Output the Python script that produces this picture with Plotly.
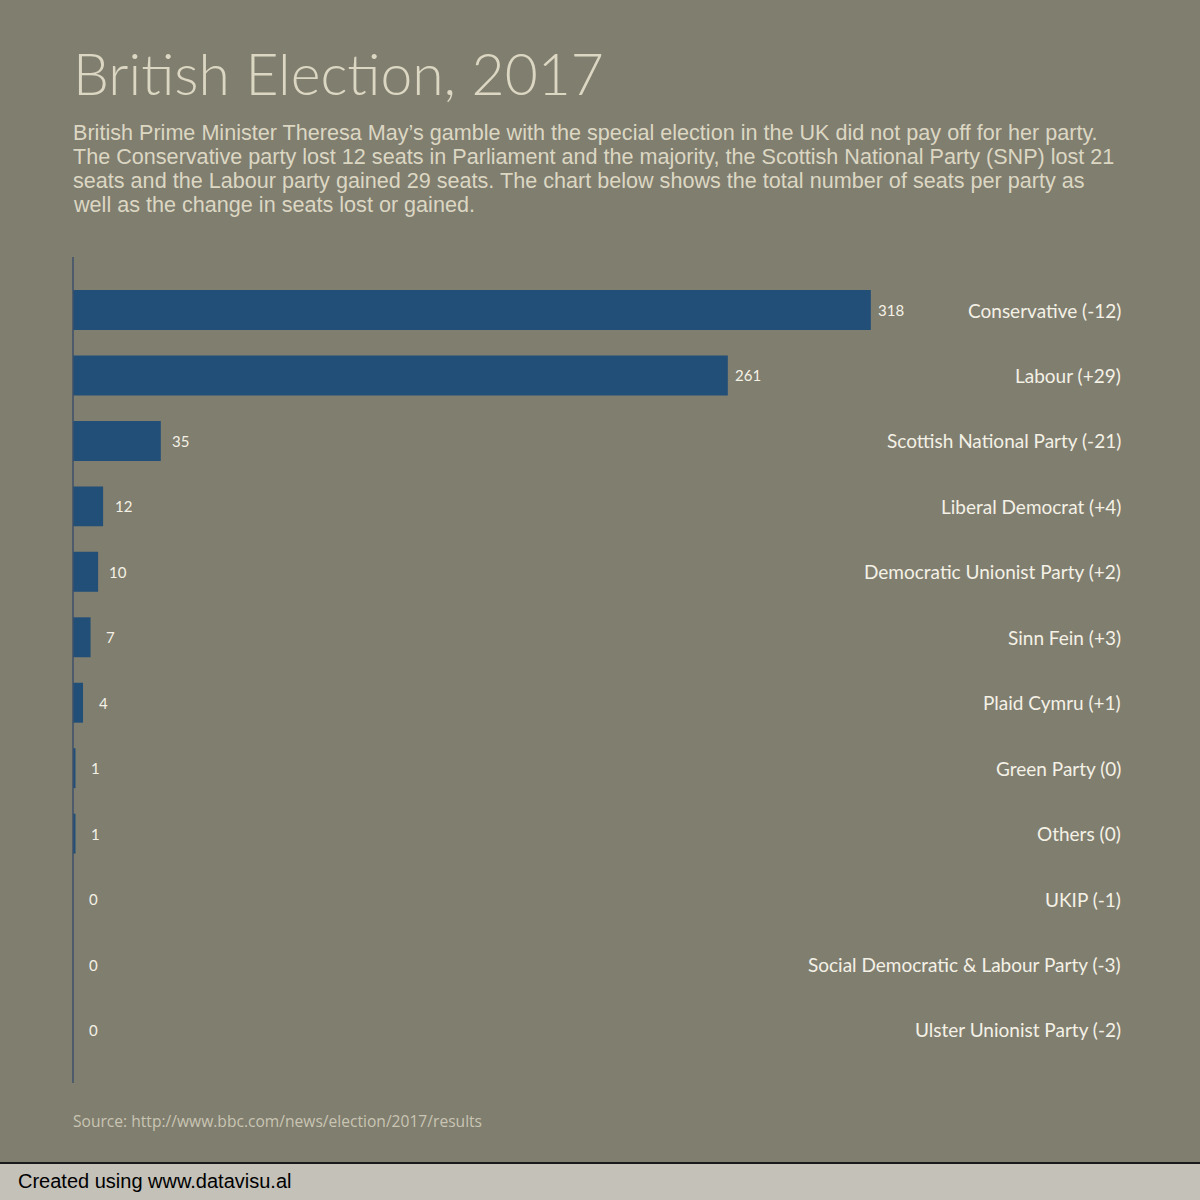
import plotly.graph_objects as go

parties = ["Conservative", "Labour", "Scottish National Party", "Liberal Democrat",
           "Democratic Unionist Party", "Sinn Fein", "Plaid Cymru", "Green Party",
           "Others", "UKIP", "Social Democratic & Labour Party", "Ulster Unionist Party"]
seats = [318, 261, 35, 12, 10, 7, 4, 1, 1, 0, 0, 0]
change = ["-12", "+29", "-21", "+4", "+2", "+3", "+1", "0", "0", "-1", "-3", "-2"]

subtitle_lines = [
    "British Prime Minister Theresa May\u2019s gamble with the special election in the UK did not pay off for her party.",
    "The Conservative party lost 12 seats in Parliament and the majority, the Scottish National Party (SNP) lost 21",
    "seats and the Labour party gained 29 seats. The chart below shows the total number of seats per party as",
    "well as the change in seats lost or gained.",
]

BG = "#807e6f"
BAR = "#224f78"
LIGHT = "#dcd7c3"

# plot area in pixels: left 73, right 1130, top 257, bottom 1083
L, R, T, B = 73, 1130, 257, 1083


def px_x(px):
    return (px - L) / (R - L)


def px_y(px):
    return (B - px) / (B - T)


fig = go.Figure()
fig.add_trace(go.Bar(
    x=seats, y=parties, orientation="h",
    marker=dict(color=BAR, line=dict(width=0)),
    width=0.61, hoverinfo="skip",
))

annotations = []
for p, s, c in zip(parties, seats, change):
    # value label
    annotations.append(dict(
        x=s, y=p, xref="x", yref="y", text=str(s), showarrow=False,
        xanchor="center", yanchor="middle", xshift=20,
        font=dict(family="Lato", size=15, color="#f4f1e6"),
    ))
    # party label on the right
    annotations.append(dict(
        x=px_x(1123), y=p, xref="paper", yref="y", text=f"{p} ({c})",
        showarrow=False, xanchor="right", yanchor="middle",
        font=dict(family="Lato", size=19, color="#f4f1e6"),
    ))

annotations.append(dict(
    x=px_x(71), y=px_y(73), xref="paper", yref="paper", text="British Election, 2017",
    showarrow=False, xanchor="left", yanchor="middle",
    font=dict(family="Lato", size=57, color=LIGHT, weight=300),
))
for i, line in enumerate(subtitle_lines):
    annotations.append(dict(
        x=px_x(71), y=px_y(132 + 24.3 * i), xref="paper", yref="paper", align="left",
        text=line, showarrow=False, xanchor="left", yanchor="middle",
        font=dict(family="Liberation Sans, Arial", size=21.6, color=LIGHT),
    ))
annotations.append(dict(
    x=px_x(71), y=px_y(1121), xref="paper", yref="paper",
    text="Source: http://www.bbc.com/news/election/2017/results",
    showarrow=False, xanchor="left", yanchor="middle",
    font=dict(family="Open Sans", size=15.6, color="#c9c5b3"),
))
annotations.append(dict(
    x=px_x(16), y=px_y(1181), xref="paper", yref="paper",
    text="Created using www.datavisu.al",
    showarrow=False, xanchor="left", yanchor="middle",
    font=dict(family="Liberation Sans, Arial", size=20, color="#000000"),
))

shapes = [
    dict(type="rect", xref="paper", yref="paper", x0=px_x(0), x1=px_x(1200),
         y0=px_y(1163), y1=px_y(1200), fillcolor="#c4c1b9", line=dict(width=0), layer="below"),
    dict(type="line", xref="paper", yref="paper", x0=px_x(0), x1=px_x(1200),
         y0=px_y(1163), y1=px_y(1163), line=dict(color="#1a1a1a", width=2)),
    dict(type="line", xref="paper", yref="paper", x0=0, x1=0,
         y0=0, y1=1, line=dict(color="#3c5068", width=1.5)),
]

fig.update_layout(
    width=1200, height=1200,
    paper_bgcolor=BG, plot_bgcolor=BG,
    margin=dict(l=L, r=1200 - R, t=T, b=1200 - B),
    showlegend=False,
    xaxis=dict(range=[0, 421.3], visible=False, fixedrange=True),
    yaxis=dict(range=[11.81, -0.81], showticklabels=False, showgrid=False,
               zeroline=False, showline=False, ticks="", fixedrange=True),
    annotations=annotations,
    shapes=shapes,
)

fig.write_html("out.html", config={"displayModeBar": False},
               post_script="document.body.style.margin='0';")
